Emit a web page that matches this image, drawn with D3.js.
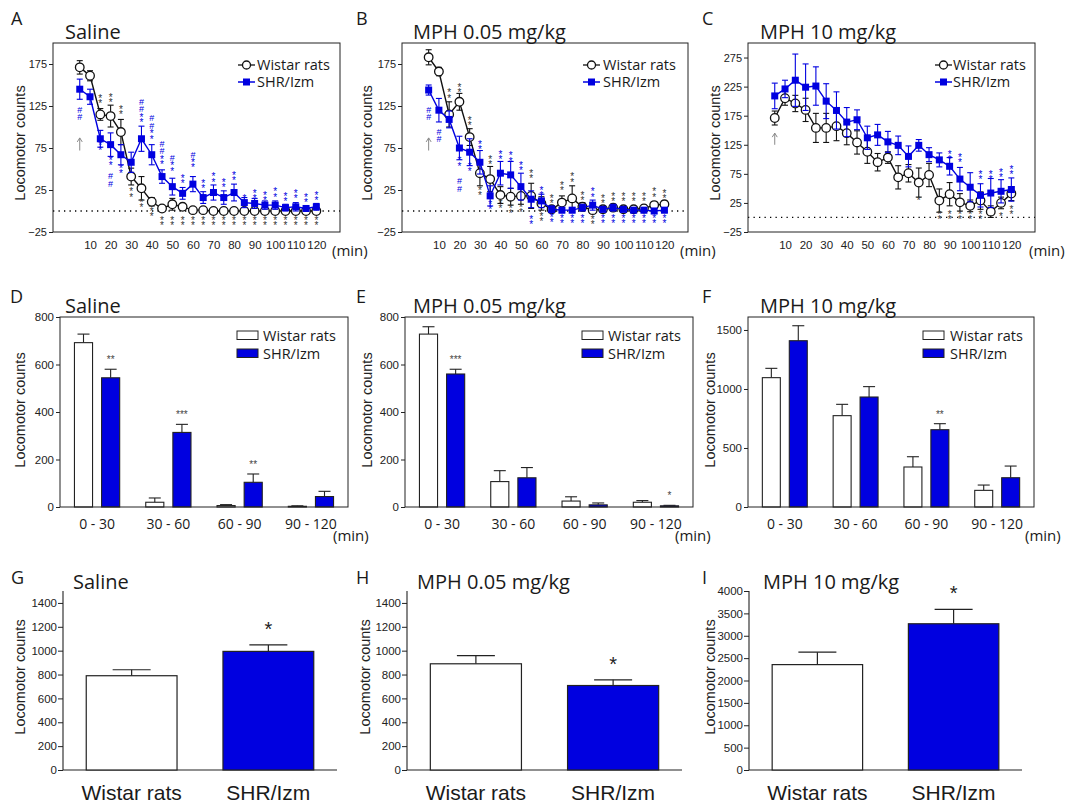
<!DOCTYPE html>
<html><head><meta charset="utf-8">
<script src="https://cdn.jsdelivr.net/npm/d3@7"></script>
<style>body{margin:0;background:#fff}svg{display:block}</style>
</head><body><svg id="c" width="1066" height="810"></svg>
<script>
// ---------- DATA ----------
const times = [5,10,15,20,25,30,35,40,45,50,55,60,65,70,75,80,85,90,95,100,105,110,115,120];
const timeTickLabels = [10,20,30,40,50,60,70,80,90,100,110,120];
const seriesNames = ["Wistar rats","SHR/Izm"];

const salineWistar    = [171,161,115,113,94,41,27,11,3,8,5,1,1,0,0,0,0,0,0,0,0,0,0,0];
const salineWistarErr = [8,6,7,13,15,10,14,5,3,7,4,2,2,1,1,1,1,1,1,1,1,1,1,1];
const salineSHR       = [145,136,86,79,67,58,86,67,41,29,21,32,16,22,16,22,10,9,7,7,4,5,3,5];
const salineSHRErr    = [12,9,10,14,12,12,15,12,8,10,7,9,7,9,8,10,6,6,5,5,4,5,3,4];

const mph005Wistar    = [183,166,115,130,88,45,38,19,17,18,18,9,2,10,15,5,1,2,4,2,2,3,7,8];
const mph005WistarErr = [9,5,15,10,10,15,15,10,10,10,15,8,4,8,15,5,4,4,4,3,3,4,4,4];
const mph005SHR       = [144,120,109,75,70,58,18,45,43,29,14,12,2,1,1,4,7,2,4,2,1,1,0,1];
const mph005SHRErr    = [6,14,10,14,16,14,12,14,16,16,10,8,4,3,3,4,6,3,4,3,3,3,3,3];

const mph10Wistar     = [171,205,196,185,154,154,157,145,129,113,95,103,69,76,60,73,29,40,26,20,29,10,25,41];
const mph10WistarErr  = [12,12,14,20,25,25,25,20,20,20,15,10,20,15,25,20,20,20,15,10,15,10,10,12];
const mph10SHR        = [209,221,236,224,226,200,184,164,168,137,142,130,124,105,124,108,99,88,66,52,38,42,45,48];
const mph10SHRErr     = [22,15,45,40,33,30,32,25,17,20,18,18,16,18,10,12,12,15,20,25,20,25,20,20];

// significance marks: [time, marks, anchor value (top of stack)]
const salineMarksW = [[15,"**",138],[20,"**",140],[25,"**",125],[30,"**",27],[35,"**",15],[40,"**",4],
  [45,"**",-7],[50,"**",-7],[55,"**",-7],[60,"**",-7],[65,"**",-7],[70,"**",-7],[75,"**",-7],[80,"**",-7],
  [85,"**",-7],[90,"**",-7],[95,"**",-7],[100,"**",-7],[105,"**",-7],[110,"**",-7],[115,"**",-7],[120,"**",-7]];
const salineMarksS = [[5,"##",124],[15,"**",82],[20,"**",65],[20,"##",45],[25,"**",55],[35,"##**",134],
  [40,"##**",114],[45,"##**",84],[50,"#**",67],[55,"**",43],[60,"#**",71],[65,"**",37],[70,"**",45],
  [75,"**",38],[80,"**",47],[85,"**",19],[90,"**",25],[95,"**",23],[100,"**",27],[105,"**",22],
  [110,"**",25],[115,"**",21],[120,"**",23]];
const mph005MarksW = [[15,"**",145],[20,"**",151],[25,"**",112],[30,"**",29],[35,"**",66],[40,"**",13],
  [45,"**",7],[50,"**",9],[55,"**",49],[60,"**",-2],[65,"**",19],[70,"**",35],[75,"**",45],[80,"**",23],
  [85,"**",-6],[90,"**",19],[95,"**",22],[100,"**",22],[105,"**",22],[110,"**",22],[115,"**",27],[120,"**",25]];
const mph005MarksS = [[5,"##",124],[10,"##",98],[20,"**",64],[20,"##",39],[25,"**",57],[30,"**",84],
  [35,"**",12],[40,"**",72],[45,"**",70],[50,"**",59],[55,"**",-6],[60,"**",29],[65,"**",-3],[70,"**",-4],
  [75,"**",-4],[80,"**",-4],[85,"**",27],[90,"**",-4],[95,"**",-4],[100,"**",-4],[105,"**",-4],
  [110,"**",-4],[115,"**",-4],[120,"**",-4]];
const mph10MarksW = [[75,"*",35],[85,"**",12],[90,"**",12],[95,"**",12],[100,"**",12],[105,"**",12],[115,"*",8],[120,"**",20]];
const mph10MarksS = [[90,"**",115],[95,"**",109],[105,"**",81],[110,"**",81],[115,"**",84],[120,"**",89]];
// injection arrow: [time, from, to]
const salineArrow = [5,72,87], mph005Arrow = [5,72,87], mph10Arrow = [5,125,145];

const periods = ["0 - 30","30 - 60","60 - 90","90 - 120"];
const salineBinW = [692,20,6,3],     salineBinWErr = [36,18,4,2];
const salineBinS = [544,314,104,44], salineBinSErr = [36,34,35,22];
const salineBinStars = ["**","***","**",""];
const mph005BinW = [728,107,25,20],  mph005BinWErr = [31,46,18,7];
const mph005BinS = [560,123,9,5],    mph005BinSErr = [20,43,8,2];
const mph005BinStars = ["***","","","*"];
const mph10BinW = [1096,774,339,141], mph10BinWErr = [79,96,87,45];
const mph10BinS = [1409,932,655,248], mph10BinSErr = [127,88,51,99];
const mph10BinStars = ["","","**",""];

const salineTotal = [790,994],  salineTotalErr = [50,54];
const mph005Total = [890,708],  mph005TotalErr = [68,48];
const mph10Total  = [2355,3268], mph10TotalErr = [277,321];
const totalStars = ["","*"];

const lineTicksA = [-25,25,75,125,175];
const lineTicksC = [-25,25,75,125,175,225,275];
const binTicks800 = [0,200,400,600,800];
const binTicks1500 = [0,500,1000,1500];
const totTicks1400 = [0,200,400,600,800,1000,1200,1400];
const totTicks4000 = [0,500,1000,1500,2000,2500,3000,3500,4000];

// ---------- DRAWING ----------
const svg = d3.select('#c');
svg.append('rect').attr('width',1066).attr('height',810).attr('fill','#fff');
const BLUE = '#0000e0';
const SANS = '"Liberation Sans", Arial, sans-serif';
const OPEN = '"Open Sans", "Liberation Sans", sans-serif';
const INK = '#1a1a1a';
const fmt = d3.format('d');

function txt(x,y,s,size,fam,opt={}){
  const t = svg.append('text').attr('x',x).attr('y',y).text(s)
    .attr('font-size',size).attr('font-family',fam).attr('fill',opt.fill||INK);
  if(opt.anchor) t.attr('text-anchor',opt.anchor);
  return t;
}
function ylabel(x,cy,size){
  svg.append('text').attr('transform',`translate(${x},${cy}) rotate(-90)`)
    .attr('text-anchor','middle').attr('font-family',SANS).attr('font-size',size||14.5)
    .attr('fill','#222').text('Locomotor counts');
}
function styleAxis(sel,size){
  sel.select('.domain').remove();
  sel.selectAll('text').attr('font-family',SANS).attr('font-size',size).attr('fill','#222');
  sel.selectAll('line').attr('stroke','#222');
}

// vertical mark text: measure natural vertical advance, then tighten with letter-spacing
const MARK = {'*':{size:10,step:5.2,inkTop:0.185},'#':{size:9,step:7.5,inkTop:0.205}};
function vtext(parent,s,size){
  return parent.append('text').attr('font-family',SANS).attr('font-size',size)
    .style('writing-mode','vertical-rl').style('text-orientation','upright').text(s);
}
(function measure(){
  for(const c of Object.keys(MARK)){
    const t = vtext(svg,c,MARK[c].size).attr('x',-100).attr('y',-100);
    MARK[c].adv = t.node().getComputedTextLength() || MARK[c].size;
    t.remove();
  }
})();

function linePanel(p){
  const x = d3.scaleLinear().domain([-8,131.5]).range([p.left,p.right]);
  const y = d3.scaleLinear().domain(p.yDomain).range([p.bottom,p.top]);
  const g = svg.append('g');
  g.append('line').attr('x1',p.left).attr('x2',p.right).attr('y1',y(0)).attr('y2',y(0))
    .attr('stroke','#000').attr('stroke-width',1.3).attr('stroke-dasharray','1.3,4.2');
  const ya = g.append('g').attr('transform',`translate(${p.left},0)`)
    .call(d3.axisLeft(y).tickValues(p.yTicks).tickSize(4).tickPadding(2).tickFormat(fmt));
  styleAxis(ya,11);
  const xa = g.append('g').attr('transform',`translate(0,${p.bottom})`)
    .call(d3.axisBottom(x).tickValues(timeTickLabels).tickSize(0).tickPadding(9).tickFormat(fmt));
  styleAxis(xa,11.5);
  g.append('rect').attr('x',p.left).attr('y',p.top).attr('width',p.right-p.left).attr('height',p.bottom-p.top)
    .attr('fill','none').attr('stroke','#222').attr('stroke-width',1);

  const drawSeries = (vals,errs,color,sym)=>{
    const s = g.append('g');
    times.forEach((t,i)=>{
      const cx = x(t);
      s.append('line').attr('x1',cx).attr('x2',cx).attr('y1',y(vals[i]-errs[i])).attr('y2',y(vals[i]+errs[i]))
        .attr('stroke',color).attr('stroke-width',1.1);
      [vals[i]-errs[i],vals[i]+errs[i]].forEach(v=>{
        s.append('line').attr('x1',cx-3).attr('x2',cx+3).attr('y1',y(v)).attr('y2',y(v))
          .attr('stroke',color).attr('stroke-width',1.1);
      });
    });
    s.append('path').datum(vals).attr('fill','none').attr('stroke',color).attr('stroke-width',1.4)
      .attr('d',d3.line().x((d,i)=>x(times[i])).y(d=>y(d)));
    times.forEach((t,i)=>{
      if(sym==='circle') s.append('circle').attr('cx',x(t)).attr('cy',y(vals[i])).attr('r',4.3)
        .attr('fill','#fff').attr('stroke','#111').attr('stroke-width',1.3);
      else s.append('rect').attr('x',x(t)-3.5).attr('y',y(vals[i])-3.5).attr('width',7).attr('height',7)
        .attr('fill',color);
    });
  };
  drawSeries(p.W,p.We,'#111','circle');
  drawSeries(p.S,p.Se,BLUE,'square');

  // vertically stacked significance marks: one vertical text per run of equal symbols
  const stack = (list,color)=>{
    list.forEach(([t,str,v])=>{
      let yy = y(v);
      const runs = str.match(/(#+|\*+)/g);
      runs.forEach(run=>{
        const m = MARK[run[0]];
        vtext(g,run,m.size).attr('x',x(t)).attr('y',yy - m.inkTop*m.size)
          .style('letter-spacing',(m.step - m.adv)+'px').attr('fill',color);
        yy += m.step*run.length;
      });
    });
  };
  stack(p.mW,'#333');
  stack(p.mS,BLUE);

  // arrow
  const [at,af,ato] = p.arrow;
  g.append('line').attr('x1',x(at)).attr('x2',x(at)).attr('y1',y(af)).attr('y2',y(ato))
    .attr('stroke','#888').attr('stroke-width',1);
  g.append('path').attr('d',`M${x(at)-2.5},${y(ato)+4} L${x(at)},${y(ato)} L${x(at)+2.5},${y(ato)+4}`)
    .attr('fill','none').attr('stroke','#888').attr('stroke-width',1);

  // legend
  const ly1 = 65, ly2 = 82;
  g.append('line').attr('x1',p.lx).attr('x2',p.lx+17).attr('y1',ly1).attr('y2',ly1).attr('stroke','#111').attr('stroke-width',1.3);
  g.append('circle').attr('cx',p.lx+8.5).attr('cy',ly1).attr('r',4).attr('fill','#fff').attr('stroke','#111').attr('stroke-width',1.3);
  g.append('line').attr('x1',p.lx).attr('x2',p.lx+17).attr('y1',ly2).attr('y2',ly2).attr('stroke',BLUE).attr('stroke-width',1.5);
  g.append('rect').attr('x',p.lx+5).attr('y',ly2-3.5).attr('width',7).attr('height',7).attr('fill',BLUE);
  txt(p.ltx,ly1+5,seriesNames[0],14.5,OPEN);
  txt(p.ltx,ly2+5,seriesNames[1],14.5,OPEN);

  txt(p.titleX,39,p.title,20,OPEN);
  txt(p.letterX,25,p.letter,18,OPEN);
  ylabel(p.ylx,143);
  txt(p.minX,256,'(min)',15,OPEN);
}

function binPanel(p){
  const x = d3.scaleBand().domain(periods).range([p.left,p.right]).paddingInner(0).paddingOuter(0.02);
  const xs = d3.scaleBand().domain(['W','S']).range([0,x.bandwidth()]).paddingInner(0.333).paddingOuter(0.48);
  const y = d3.scaleLinear().domain([0,p.yMax]).range([p.bottom,p.top]);
  const g = svg.append('g');
  const ya = g.append('g').attr('transform',`translate(${p.left},0)`)
    .call(d3.axisLeft(y).tickValues(p.yTicks).tickSize(4).tickPadding(2).tickFormat(fmt));
  styleAxis(ya,11.5);
  const bars = [['W',p.W,p.We,'#fff'],['S',p.S,p.Se,BLUE]];
  bars.forEach(([k,vals,errs,fill])=>{
    periods.forEach((c,i)=>{
      const bx = x(c)+xs(k), bw = xs.bandwidth(), cx = bx+bw/2;
      g.append('line').attr('x1',cx).attr('x2',cx).attr('y1',y(vals[i])).attr('y2',y(vals[i]+errs[i]))
        .attr('stroke','#222').attr('stroke-width',1.1);
      g.append('line').attr('x1',cx-6).attr('x2',cx+6).attr('y1',y(vals[i]+errs[i])).attr('y2',y(vals[i]+errs[i]))
        .attr('stroke','#222').attr('stroke-width',1.1);
      g.append('rect').attr('x',bx).attr('y',y(vals[i])).attr('width',bw).attr('height',y(0)-y(vals[i]))
        .attr('fill',fill).attr('stroke','#222').attr('stroke-width',1.1);
      if(k==='S' && p.stars[i]){
        g.append('text').attr('x',cx).attr('y',y(vals[i]+errs[i])-6).attr('text-anchor','middle')
          .attr('font-family',SANS).attr('font-size',10).attr('fill','#444').text(p.stars[i]);
      }
    });
  });
  g.append('rect').attr('x',p.left).attr('y',p.top).attr('width',p.right-p.left).attr('height',p.bottom-p.top)
    .attr('fill','none').attr('stroke','#222').attr('stroke-width',1);
  periods.forEach(c=>{
    txt(x(c)+x.bandwidth()/2,p.bottom+22,c,14,OPEN,{anchor:'middle'});
  });
  // legend
  g.append('rect').attr('x',p.lx).attr('y',331).attr('width',21).attr('height',8.5).attr('fill','#fff').attr('stroke','#222').attr('stroke-width',1);
  g.append('rect').attr('x',p.lx).attr('y',349).attr('width',21).attr('height',8.5).attr('fill',BLUE).attr('stroke','#222').attr('stroke-width',1);
  txt(p.ltx,340.5,seriesNames[0],14.5,OPEN);
  txt(p.ltx,358.5,seriesNames[1],14.5,OPEN);
  txt(p.titleX,313,p.title,20,OPEN);
  txt(p.letterX,303,p.letter,18,OPEN);
  ylabel(p.ylx,410);
  txt(p.minX,541,'(min)',15,OPEN);
}

function totalPanel(p){
  const x = d3.scaleBand().domain(seriesNames).range([p.left,p.right]).paddingInner(0.336).paddingOuter(0.17);
  const y = d3.scaleLinear().domain([0,p.yMax]).range([p.bottom,p.top]);
  const g = svg.append('g');
  const ya = g.append('g').attr('transform',`translate(${p.left},0)`)
    .call(d3.axisLeft(y).tickValues(p.yTicks).tickSize(5).tickPadding(1).tickFormat(fmt));
  styleAxis(ya,11.5);
  g.append('line').attr('x1',p.left).attr('x2',p.left).attr('y1',y(0)).attr('y2',y(p.yMax)).attr('stroke','#222').attr('stroke-width',1.1);
  g.append('line').attr('x1',p.left).attr('x2',p.right).attr('y1',y(0)).attr('y2',y(0)).attr('stroke','#222').attr('stroke-width',1.1);
  seriesNames.forEach((c,i)=>{
    const bx = x(c), bw = x.bandwidth(), cx = bx+bw/2;
    const v = p.vals[i], e = p.errs[i];
    g.append('line').attr('x1',cx).attr('x2',cx).attr('y1',y(v)).attr('y2',y(v+e)).attr('stroke','#222').attr('stroke-width',1.2);
    g.append('line').attr('x1',cx-19).attr('x2',cx+19).attr('y1',y(v+e)).attr('y2',y(v+e)).attr('stroke','#222').attr('stroke-width',1.2);
    g.append('rect').attr('x',bx).attr('y',y(v)).attr('width',bw).attr('height',y(0)-y(v))
      .attr('fill',i===0?'#fff':BLUE).attr('stroke','#222').attr('stroke-width',1.2);
    if(totalStars[i]) g.append('text').attr('x',cx).attr('y',y(v+e)-9).attr('text-anchor','middle')
      .attr('font-family',SANS).attr('font-size',20).attr('fill','#222').text(totalStars[i]);
    txt(cx,800,c,21,SANS,{anchor:'middle'});
  });
  txt(p.titleX,589,p.title,20,OPEN);
  txt(p.letterX,584,p.letter,18,OPEN);
  ylabel(p.ylx,677);
}

linePanel({left:53,right:340,top:43,bottom:232,yDomain:[-25,200],yTicks:lineTicksA,
  W:salineWistar,We:salineWistarErr,S:salineSHR,Se:salineSHRErr,mW:salineMarksW,mS:salineMarksS,arrow:salineArrow,
  lx:238,ltx:257,title:'Saline',titleX:65,letter:'A',letterX:11,ylx:25,minX:332});
linePanel({left:402,right:688,top:43,bottom:232,yDomain:[-25,200],yTicks:lineTicksA,
  W:mph005Wistar,We:mph005WistarErr,S:mph005SHR,Se:mph005SHRErr,mW:mph005MarksW,mS:mph005MarksS,arrow:mph005Arrow,
  lx:583,ltx:603,title:'MPH 0.05 mg/kg',titleX:413,letter:'B',letterX:356,ylx:372,minX:680});
linePanel({left:748,right:1035,top:43,bottom:232,yDomain:[-25,300],yTicks:lineTicksC,
  W:mph10Wistar,We:mph10WistarErr,S:mph10SHR,Se:mph10SHRErr,mW:mph10MarksW,mS:mph10MarksS,arrow:mph10Arrow,
  lx:935,ltx:953,title:'MPH 10 mg/kg',titleX:760,letter:'C',letterX:702,ylx:720,minX:1029});

binPanel({left:60,right:348,top:317,bottom:507,yMax:800,yTicks:binTicks800,
  W:salineBinW,We:salineBinWErr,S:salineBinS,Se:salineBinSErr,stars:salineBinStars,
  lx:237,ltx:263,title:'Saline',titleX:65,letter:'D',letterX:10,ylx:25,minX:333});
binPanel({left:405,right:693,top:317,bottom:507,yMax:800,yTicks:binTicks800,
  W:mph005BinW,We:mph005BinWErr,S:mph005BinS,Se:mph005BinSErr,stars:mph005BinStars,
  lx:582,ltx:608,title:'MPH 0.05 mg/kg',titleX:413,letter:'E',letterX:356,ylx:372,minX:675});
binPanel({left:748,right:1034,top:317,bottom:507,yMax:1610,yTicks:binTicks1500,
  W:mph10BinW,We:mph10BinWErr,S:mph10BinS,Se:mph10BinSErr,stars:mph10BinStars,
  lx:923,ltx:950,title:'MPH 10 mg/kg',titleX:760,letter:'F',letterX:702,ylx:715,minX:1025});

totalPanel({left:63,right:337,top:591,bottom:770,yMax:1500,yTicks:totTicks1400,
  vals:salineTotal,errs:salineTotalErr,title:'Saline',titleX:73,letter:'G',letterX:11,ylx:25});
totalPanel({left:407,right:682,top:591,bottom:770,yMax:1500,yTicks:totTicks1400,
  vals:mph005Total,errs:mph005TotalErr,title:'MPH 0.05 mg/kg',titleX:417,letter:'H',letterX:356,ylx:370});
totalPanel({left:749,right:1022,top:591,bottom:770,yMax:4000,yTicks:totTicks4000,
  vals:mph10Total,errs:mph10TotalErr,title:'MPH 10 mg/kg',titleX:763,letter:'I',letterX:702,ylx:715});
</script></body></html>
